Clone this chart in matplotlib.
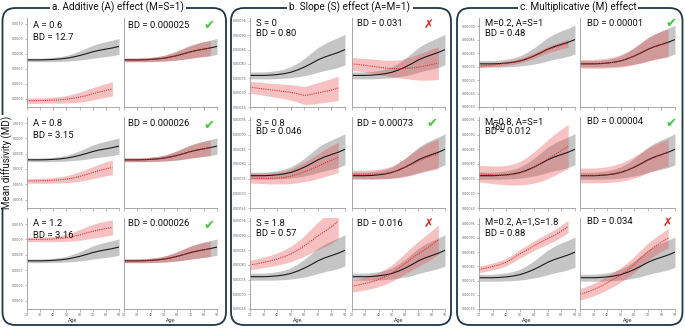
import matplotlib
matplotlib.use("Agg")
import matplotlib.pyplot as plt
from matplotlib.patches import FancyBboxPatch
import numpy as np

W, H = 685, 328

# ---------------- data ----------------
age_ref = [20, 25, 30, 35, 40, 45, 50, 55, 60, 65, 70, 75, 80, 85, 90]
age_site = [20, 25, 30, 35, 40, 45, 50, 55, 60, 65, 70, 75, 80, 85]

ref_md = [0.000760, 0.000760, 0.000760, 0.000761, 0.000763, 0.000766, 0.000771, 0.000779,
          0.000789, 0.000801, 0.000814, 0.000824, 0.000832, 0.000840, 0.000850]
ref_sd = [0.000012, 0.000012, 0.000012, 0.000013, 0.000014, 0.000016, 0.000019, 0.000024,
          0.000030, 0.000037, 0.000043, 0.000047, 0.000050, 0.000052, 0.000053]

# Panel a: additive effect
a1_raw_md = [0.000487, 0.000487, 0.000488, 0.000489, 0.000491, 0.000493, 0.000497, 0.000503,
             0.000511, 0.000521, 0.000533, 0.000545, 0.000556, 0.000566]
a1_raw_sd = [0.000018, 0.000018, 0.000018, 0.000019, 0.000020, 0.000022, 0.000025, 0.000029,
             0.000033, 0.000037, 0.000041, 0.000044, 0.000046, 0.000047]
a1_harm_md = [0.000760, 0.000760, 0.000760, 0.000761, 0.000763, 0.000766, 0.000771, 0.000779,
              0.000789, 0.000801, 0.000813, 0.000823, 0.000832, 0.000839]
a1_harm_sd = [0.000012, 0.000012, 0.000012, 0.000013, 0.000014, 0.000016, 0.000019, 0.000024,
              0.000030, 0.000036, 0.000042, 0.000046, 0.000049, 0.000051]

a2_raw_md = [0.000622, 0.000622, 0.000623, 0.000624, 0.000626, 0.000629, 0.000634, 0.000641,
             0.000651, 0.000663, 0.000676, 0.000690, 0.000701, 0.000710]
a2_raw_sd = [0.000015, 0.000015, 0.000016, 0.000017, 0.000018, 0.000020, 0.000023, 0.000027,
             0.000031, 0.000035, 0.000039, 0.000043, 0.000046, 0.000048]
a2_harm_md = [0.000760, 0.000760, 0.000760, 0.000761, 0.000763, 0.000766, 0.000771, 0.000779,
              0.000789, 0.000801, 0.000813, 0.000823, 0.000832, 0.000839]
a2_harm_sd = [0.000012, 0.000012, 0.000012, 0.000013, 0.000014, 0.000016, 0.000019, 0.000024,
              0.000030, 0.000036, 0.000042, 0.000046, 0.000049, 0.000051]

a3_raw_md = [0.000900, 0.000900, 0.000900, 0.000901, 0.000903, 0.000906, 0.000911, 0.000919,
             0.000929, 0.000942, 0.000953, 0.000963, 0.000971, 0.000978]
a3_raw_sd = [0.000014, 0.000014, 0.000015, 0.000016, 0.000018, 0.000020, 0.000024, 0.000029,
             0.000035, 0.000041, 0.000045, 0.000048, 0.000050, 0.000050]
a3_harm_md = [0.000760, 0.000760, 0.000760, 0.000761, 0.000763, 0.000766, 0.000771, 0.000779,
              0.000789, 0.000801, 0.000813, 0.000823, 0.000832, 0.000839]
a3_harm_sd = [0.000012, 0.000012, 0.000012, 0.000013, 0.000014, 0.000016, 0.000019, 0.000024,
              0.000030, 0.000036, 0.000042, 0.000046, 0.000049, 0.000051]

# Panel b: slope effect
b1_raw_md = [0.000719, 0.000716, 0.000713, 0.000710, 0.000707, 0.000704, 0.000701, 0.000696,
             0.000690, 0.000694, 0.000699, 0.000704, 0.000709, 0.000716]
b1_raw_sd = [0.000020, 0.000021, 0.000022, 0.000023, 0.000024, 0.000025, 0.000027, 0.000029,
             0.000031, 0.000034, 0.000036, 0.000038, 0.000040, 0.000042]
b1_harm_md = [0.000800, 0.000798, 0.000795, 0.000792, 0.000789, 0.000786, 0.000784, 0.000783,
              0.000784, 0.000786, 0.000789, 0.000793, 0.000798, 0.000803]
b1_harm_sd = [0.000022, 0.000023, 0.000024, 0.000025, 0.000026, 0.000027, 0.000029, 0.000031,
              0.000035, 0.000040, 0.000045, 0.000050, 0.000054, 0.000057]

b2_raw_md = [0.000752, 0.000751, 0.000751, 0.000751, 0.000752, 0.000754, 0.000758, 0.000765,
             0.000773, 0.000782, 0.000792, 0.000803, 0.000813, 0.000822]
b2_raw_sd = [0.000017, 0.000017, 0.000018, 0.000019, 0.000020, 0.000022, 0.000025, 0.000029,
             0.000033, 0.000038, 0.000042, 0.000046, 0.000049, 0.000051]
b2_harm_md = [0.000765, 0.000765, 0.000765, 0.000765, 0.000766, 0.000768, 0.000772, 0.000779,
              0.000788, 0.000799, 0.000810, 0.000820, 0.000828, 0.000835]
b2_harm_sd = [0.000014, 0.000014, 0.000014, 0.000015, 0.000016, 0.000018, 0.000021, 0.000026,
              0.000031, 0.000037, 0.000042, 0.000046, 0.000049, 0.000051]

b3_raw_md = [0.000800, 0.000804, 0.000809, 0.000814, 0.000820, 0.000828, 0.000837, 0.000850,
             0.000865, 0.000882, 0.000899, 0.000914, 0.000930, 0.000950]
b3_raw_sd = [0.000016, 0.000017, 0.000018, 0.000019, 0.000021, 0.000023, 0.000026, 0.000030,
             0.000035, 0.000041, 0.000047, 0.000052, 0.000056, 0.000060]
b3_harm_md = [0.000728, 0.000732, 0.000737, 0.000743, 0.000750, 0.000760, 0.000772, 0.000788,
              0.000805, 0.000822, 0.000838, 0.000853, 0.000869, 0.000886]
b3_harm_sd = [0.000020, 0.000021, 0.000022, 0.000023, 0.000024, 0.000026, 0.000028, 0.000031,
              0.000035, 0.000039, 0.000043, 0.000046, 0.000048, 0.000050]

# Panel c: multiplicative effect
c1_raw_md = [0.000752, 0.000754, 0.000756, 0.000759, 0.000762, 0.000766, 0.000772, 0.000780,
             0.000790, 0.000801, 0.000812, 0.000821, 0.000829, 0.000836]
c1_raw_sd = [0.000006, 0.000006, 0.000006, 0.000007, 0.000007, 0.000008, 0.000008, 0.000009,
             0.000010, 0.000011, 0.000012, 0.000013, 0.000014, 0.000015]
c1_harm_md = [0.000761, 0.000760, 0.000760, 0.000761, 0.000763, 0.000766, 0.000771, 0.000779,
              0.000789, 0.000801, 0.000813, 0.000823, 0.000831, 0.000838]
c1_harm_sd = [0.000016, 0.000016, 0.000016, 0.000017, 0.000018, 0.000020, 0.000023, 0.000027,
              0.000032, 0.000038, 0.000043, 0.000047, 0.000050, 0.000052]

c2_raw_md = [0.000767, 0.000765, 0.000763, 0.000762, 0.000762, 0.000764, 0.000769, 0.000777,
             0.000788, 0.000801, 0.000816, 0.000831, 0.000846, 0.000860]
c2_raw_sd = [0.000028, 0.000029, 0.000030, 0.000031, 0.000033, 0.000036, 0.000040, 0.000046,
             0.000053, 0.000060, 0.000066, 0.000070, 0.000073, 0.000075]
c2_harm_md = [0.000761, 0.000761, 0.000761, 0.000762, 0.000764, 0.000767, 0.000772, 0.000779,
              0.000789, 0.000800, 0.000812, 0.000822, 0.000831, 0.000839]
c2_harm_sd = [0.000025, 0.000025, 0.000025, 0.000026, 0.000027, 0.000029, 0.000031, 0.000034,
              0.000037, 0.000040, 0.000042, 0.000044, 0.000045, 0.000046]

c3_raw_md = [0.000789, 0.000794, 0.000800, 0.000806, 0.000815, 0.000829, 0.000845, 0.000858,
             0.000872, 0.000885, 0.000897, 0.000909, 0.000924, 0.000940]
c3_raw_sd = [0.000012, 0.000012, 0.000012, 0.000013, 0.000013, 0.000014, 0.000015, 0.000016,
             0.000017, 0.000018, 0.000019, 0.000020, 0.000021, 0.000022]
c3_harm_md = [0.000701, 0.000709, 0.000718, 0.000729, 0.000742, 0.000755, 0.000770, 0.000787,
              0.000807, 0.000830, 0.000851, 0.000869, 0.000885, 0.000899]
c3_harm_sd = [0.000020, 0.000021, 0.000022, 0.000023, 0.000024, 0.000025, 0.000026, 0.000027,
              0.000028, 0.000029, 0.000030, 0.000031, 0.000032, 0.000034]

# ticks
age_ticks = [20, 30, 40, 50, 60, 70, 80, 90]
age_ticklabels = ["20", "30", "40", "50", "60", "70", "80", "90"]
ticks_a = [0.0005, 0.0006, 0.0007, 0.0008, 0.0009, 0.0010]
ticklabels_a = ["0.0005", "0.0006", "0.0007", "0.0008", "0.0009", "0.0010"]
ticks_b = [0.00065, 0.00070, 0.00075, 0.00080, 0.00085, 0.00090, 0.00095]
ticklabels_b = ["0.00065", "0.00070", "0.00075", "0.00080", "0.00085", "0.00090", "0.00095"]
ticks_c = [0.00060, 0.00065, 0.00070, 0.00075, 0.00080, 0.00085, 0.00090]
ticklabels_c = ["0.00060", "0.00065", "0.00070", "0.00075", "0.00080", "0.00085", "0.00090"]

panel_titles = ["a. Additive (A) effect (M=S=1)", "b. Slope (S) effect (A=M=1)",
                "c. Multiplicative (M) effect"]
param_labels = [["A = 0.6", "A = 0.8", "A = 1.2"],
                ["S = 0", "S = 0.8", "S = 1.8"],
                ["M=0.2, A=S=1", "M=0.8, A=S=1", "M=0.2, A=1,S=1.8"]]
bd_raw = [["BD = 12.7", "BD = 3.15", "BD = 3.16"],
          ["BD = 0.80", "BD = 0.046", "BD = 0.57"],
          ["BD = 0.48", "BD = 0.012", "BD = 0.88"]]
bd_harm = [["BD = 0.000025", "BD = 0.000026", "BD = 0.000026"],
           ["BD = 0.031", "BD = 0.00073", "BD = 0.016"],
           ["BD = 0.00001", "BD = 0.00004", "BD = 0.034"]]
passed = [[True, True, True], [False, True, False], [True, True, False]]
stray_label = "160"

# ---------------- layout ----------------
plt.rcParams['font.family'] = ['Roboto', 'DejaVu Sans']
fig = plt.figure(figsize=(W / 100, H / 100), dpi=100)

rows_y = [(18, 107), (117, 208), (218, 309)]
cols_x = [[(27, 119), (124, 217)], [(250, 345), (352, 445)], [(479, 575), (580, 675)]]

raw_series = [[(a1_raw_md, a1_raw_sd), (a2_raw_md, a2_raw_sd), (a3_raw_md, a3_raw_sd)],
              [(b1_raw_md, b1_raw_sd), (b2_raw_md, b2_raw_sd), (b3_raw_md, b3_raw_sd)],
              [(c1_raw_md, c1_raw_sd), (c2_raw_md, c2_raw_sd), (c3_raw_md, c3_raw_sd)]]
harm_series = [[(a1_harm_md, a1_harm_sd), (a2_harm_md, a2_harm_sd), (a3_harm_md, a3_harm_sd)],
               [(b1_harm_md, b1_harm_sd), (b2_harm_md, b2_harm_sd), (b3_harm_md, b3_harm_sd)],
               [(c1_harm_md, c1_harm_sd), (c2_harm_md, c2_harm_sd), (c3_harm_md, c3_harm_sd)]]

ylims = [[(0.000445, 0.00104)] * 3,
         [(0.00065, 0.00096)] * 3,
         [(0.00060, 0.00093), (0.00065, 0.00096), (0.00065, 0.00097)]]
yticks = [[(ticks_a, ticklabels_a)] * 3,
          [(ticks_b, ticklabels_b)] * 3,
          [(ticks_c, ticklabels_c), (ticks_b, ticklabels_b), (ticks_b, ticklabels_b)]]

grey = (0.55, 0.55, 0.55)
pink = (0.92, 0.25, 0.25)
ref_arr = np.array(ref_md)
ref_sd_arr = np.array(ref_sd)


def rect(xl, xr, yt, yb):
    return [xl / W, 1 - yb / H, (xr - xl) / W, (yb - yt) / H]


def draw(ax, md, sd, ylim, ticks, show_y, show_x):
    md = np.array(md)
    sd = np.array(sd)
    ax.fill_between(age_ref, ref_arr - ref_sd_arr, ref_arr + ref_sd_arr, color=grey,
                    alpha=0.5, lw=0)
    ax.fill_between(age_site, md - sd, md + sd, color=pink, alpha=0.32, lw=0)
    ax.plot(age_ref, ref_md, color='#1a1a1a', lw=0.8)
    ax.plot(age_site, md, color='#e03030', lw=0.8, ls=(0, (1, 1)))
    ax.set_xlim(20, 90)
    ax.set_ylim(*ylim)
    ax.set_facecolor('none')
    for s in ['top', 'right']:
        ax.spines[s].set_visible(False)
    for s in ['left', 'bottom']:
        ax.spines[s].set_color('#9a9a9a')
        ax.spines[s].set_linewidth(0.6)
    ax.set_xticks(age_ticks)
    if show_x:
        ax.set_xticklabels(age_ticklabels)
        ax.set_xlabel("Age", fontsize=4, color='#444', labelpad=1)
    else:
        ax.set_xticklabels([])
    ax.tick_params(axis='x', length=1.8, width=0.4, colors='#888', labelsize=2.6, pad=1,
                   labelcolor='#666')
    if show_y:
        ax.set_yticks(ticks[0])
        ax.set_yticklabels(ticks[1])
        ax.tick_params(axis='y', length=1.5, width=0.4, colors='#888', labelsize=2.6, pad=1,
                       labelcolor='#666')
    else:
        ax.set_yticks([])


for p in range(3):
    for r in range(3):
        yt, yb = rows_y[r]
        for c in range(2):
            xl, xr = cols_x[p][c]
            ax = fig.add_axes(rect(xl, xr, yt, yb), zorder=1)
            md, sd = raw_series[p][r] if c == 0 else harm_series[p][r]
            draw(ax, md, sd, ylims[p][r], yticks[p][r], c == 0, r == 2)

# overlay for boxes, titles and annotations (pixel coordinates)
bg = fig.add_axes([0, 0, 1, 1], zorder=2)
bg.set_xlim(0, W)
bg.set_ylim(H, 0)
bg.axis('off')
bg.patch.set_alpha(0)

box_edge = '#1f3747'
boxes = [(2.5, 8, 223.5, 317), (231, 8, 220, 317), (457, 8, 225.5, 317)]
title_x = [118, 350, 578]
for (x0, y0, w, h), tx, title in zip(boxes, title_x, panel_titles):
    bg.add_patch(FancyBboxPatch((x0, y0), w, h, boxstyle="round,pad=0,rounding_size=13",
                                fc='none', ec=box_edge, lw=1.3))
    bg.text(tx, 7, title, ha='center', va='center', fontsize=7.2, color='#111',
            bbox=dict(fc='white', ec='none', pad=1.5))

bg.text(7, 162, "Mean diffusivity (MD)", rotation=90, ha='center', va='center',
        fontsize=7, color='#111', bbox=dict(fc='white', ec='none', pad=0.5))

txt_left_x = [33, 256, 485]
txt_right_x = [128, 357, 587]
mark_x = [209, 432, 671]
row_text_y = [[(25, 37), (124, 135), (224, 236)],
              [(24, 34), (123, 132), (223, 233)],
              [(23, 34), (122, 132), (222, 233)]]
for p in range(3):
    for r in range(3):
        y1, y2 = row_text_y[p][r]
        bg.text(txt_left_x[p], y1, param_labels[p][r], ha='left', va='center', fontsize=6.8,
                color='#111')
        bg.text(txt_left_x[p], y2, bd_raw[p][r], ha='left', va='center', fontsize=6.8,
                color='#111')
        bg.text(txt_right_x[p], y1, bd_harm[p][r], ha='left', va='center', fontsize=6.8,
                color='#111')
        if passed[p][r]:
            bg.text(mark_x[p], y1 + 1, "\u2714", ha='center', va='center', fontsize=9.5,
                    color='#45c83c', family=['DejaVu Sans'])
        else:
            bg.text(mark_x[p] - 3, y1, "\u2717", ha='center', va='center', fontsize=8.5,
                    color='#e51d1d', family=['DejaVu Sans'], fontweight='bold')

# stray label present in the original figure (overlapping "BD")
bg.text(498, 128, stray_label, ha='center', va='center', fontsize=6.5, color='#111')

fig.savefig("out.png", dpi=100)
